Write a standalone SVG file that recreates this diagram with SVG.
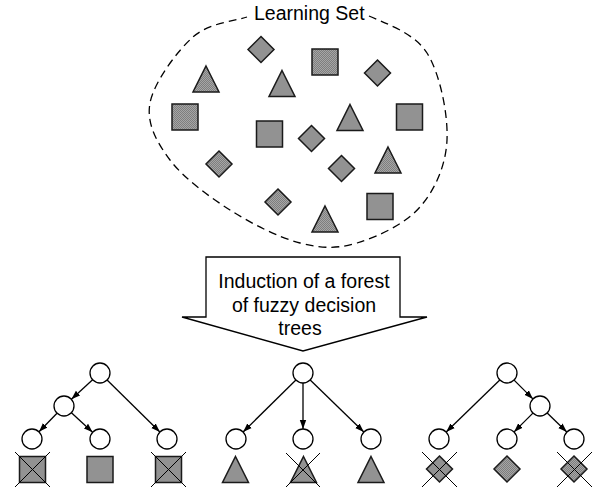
<svg xmlns="http://www.w3.org/2000/svg" width="600" height="490" viewBox="0 0 600 490">
<defs>
<pattern id="hatch" width="2" height="2" patternUnits="userSpaceOnUse">
<rect width="2" height="2" fill="#a6a6a6"/>
<rect width="1" height="1" fill="#7e7e7e"/>
<rect x="1" y="1" width="1" height="1" fill="#7e7e7e"/>
</pattern>
<marker id="arr" markerWidth="10" markerHeight="8" refX="9" refY="4" orient="auto" markerUnits="userSpaceOnUse">
<path d="M0,0.8 L9,4 L0,7.2 Z" fill="#000"/>
</marker>
<rect id="sq" x="-13" y="-13" width="26" height="26"/>
<path id="dm" d="M0,-13 L13,0 L0,13 L-13,0 Z"/>
<path id="tr" d="M0,-13 L13,13 L-13,13 Z"/>
</defs>
<style>
.s{fill:url(#hatch);stroke:#1a1a1a;stroke-width:1.5;stroke-linejoin:miter}
.n{fill:#fff;stroke:#000;stroke-width:1.3}
.e{stroke:#000;stroke-width:1.3;fill:none;marker-end:url(#arr)}
.x{stroke:#000;stroke-width:1;fill:none}
.t{font-family:"Liberation Sans",Arial,sans-serif;font-size:19.5px;fill:#000}
</style>
<rect width="600" height="490" fill="#fff"/>

<g id="learning-set">
<path d="M369,16 C383.5,22.8 414,32.3 427,53 C440,73.7 448.2,114.3 447,140 C445.8,165.7 435,189.8 420,207 C405,224.2 377,237 357,243 C337,249 321.2,248.5 300,243 C278.8,237.5 251.7,223.8 230,210 C208.3,196.2 183.3,177.8 170,160 C156.7,142.2 146.2,123.5 150,103 C153.8,82.5 176.8,51.3 193,37 C209.2,22.7 234.2,21.2 247,17" fill="none" stroke="#000" stroke-width="1.3" stroke-dasharray="8,5"/>
<text class="t" x="254" y="20">Learning Set</text>
<g id="set-shapes">
<use href="#dm" class="s" x="261" y="49.5"/>
<use href="#dm" class="s" x="377.5" y="73"/>
<use href="#dm" class="s" x="311.5" y="138.5"/>
<use href="#dm" class="s" x="219" y="164"/>
<use href="#dm" class="s" x="341.5" y="168.5"/>
<use href="#dm" class="s" x="278" y="202"/>
<use href="#sq" class="s" x="325" y="62"/>
<use href="#sq" class="s" x="185" y="117"/>
<use href="#sq" class="s" x="269.5" y="134"/>
<use href="#sq" class="s" x="409.5" y="117"/>
<use href="#sq" class="s" x="380" y="206.5"/>
<use href="#tr" class="s" x="206" y="79"/>
<use href="#tr" class="s" x="282" y="83.5"/>
<use href="#tr" class="s" x="350" y="117.5"/>
<use href="#tr" class="s" x="388" y="160"/>
<use href="#tr" class="s" x="325" y="219"/>
</g>
</g>

<g id="induction-arrow">
<path d="M206,257 L400,257 L400,317 L427,317 L303,351 L182,317 L206,317 Z" fill="#fff" stroke="#000" stroke-width="1.3" stroke-linejoin="miter"/>
<text class="t" x="304" y="288" text-anchor="middle">Induction of a forest</text>
<text class="t" x="304" y="311.5" text-anchor="middle">of fuzzy decision</text>
<text class="t" x="300" y="335" text-anchor="middle">trees</text>
</g>

<g id="connectors">
<line class="e" x1="92.6" y1="379.8" x2="71.4" y2="399.2"/>
<line class="e" x1="107.1" y1="380" x2="159.9" y2="432"/>
<line class="e" x1="57" y1="413.2" x2="39" y2="431.8"/>
<line class="e" x1="71.4" y1="412.8" x2="92.6" y2="432.2"/>
<line class="e" x1="295.9" y1="380" x2="243.1" y2="432"/>
<line class="e" x1="303" y1="383" x2="303" y2="429"/>
<line class="e" x1="310.2" y1="380" x2="363.8" y2="432"/>
<line class="e" x1="499.8" y1="380" x2="446.2" y2="432"/>
<line class="e" x1="514.1" y1="380.1" x2="532.9" y2="398.9"/>
<line class="e" x1="532.9" y1="413.1" x2="514.1" y2="431.9"/>
<line class="e" x1="547.2" y1="413" x2="566.8" y2="432"/>
</g>

<g id="tree1">
<circle class="n" cx="100" cy="373" r="10"/>
<circle class="n" cx="64" cy="406" r="10"/>
<circle class="n" cx="32" cy="439" r="10"/>
<circle class="n" cx="100" cy="439" r="10"/>
<circle class="n" cx="167" cy="439" r="10"/>
<use href="#sq" class="s" x="32.5" y="469.5"/>
<use href="#sq" class="s" x="100" y="469.5"/>
<use href="#sq" class="s" x="168.5" y="469.5"/>
<path class="x" d="M15,452 L50,487 M50,452 L15,487 M151,452 L186,487 M186,452 L151,487"/>
</g>

<g id="tree2">
<circle class="n" cx="303" cy="373" r="10"/>
<circle class="n" cx="236" cy="439" r="10"/>
<circle class="n" cx="303" cy="439" r="10"/>
<circle class="n" cx="371" cy="439" r="10"/>
<use href="#tr" class="s" x="235.5" y="469.5"/>
<use href="#tr" class="s" x="303.5" y="469.5"/>
<use href="#tr" class="s" x="371" y="469.5"/>
<path class="x" d="M286,453 L320,487 M320,453 L286,487"/>
</g>

<g id="tree3">
<circle class="n" cx="507" cy="373" r="10"/>
<circle class="n" cx="540" cy="406" r="10"/>
<circle class="n" cx="439" cy="439" r="10"/>
<circle class="n" cx="507" cy="439" r="10"/>
<circle class="n" cx="574" cy="439" r="10"/>
<use href="#dm" class="s" x="439.5" y="469"/>
<use href="#dm" class="s" x="507" y="469"/>
<use href="#dm" class="s" x="574" y="469"/>
<path class="x" d="M422,452 L457,487 M457,452 L422,487 M557,452 L592,487 M592,452 L557,487"/>
</g>
</svg>
